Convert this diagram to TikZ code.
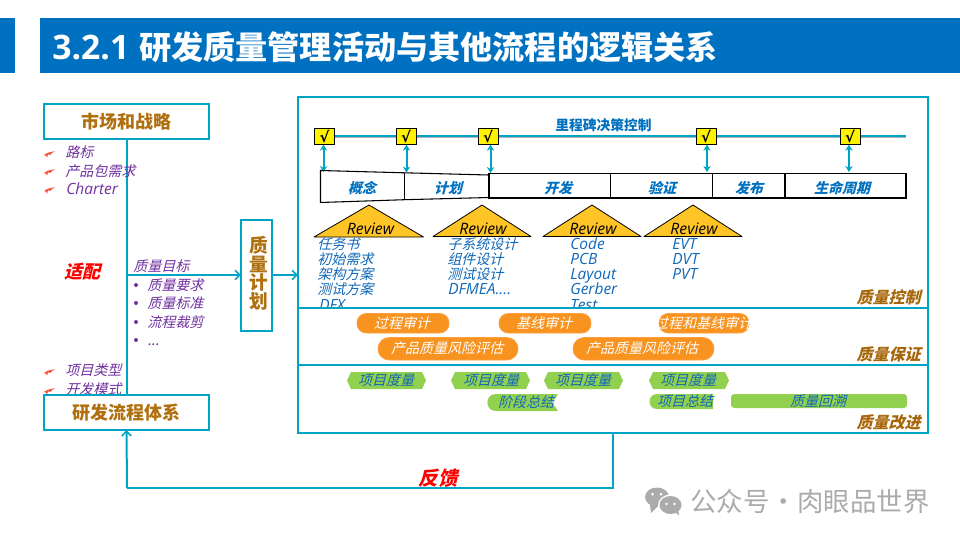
\documentclass[tikz,border=0pt]{standalone}
\usepackage{fontspec}
\usetikzlibrary{arrows.meta,shapes.geometric,calc}
\newfontfamily\cjk{Noto Sans CJK SC}
\newfontfamily\cjkit[FakeSlant=0.25]{Noto Sans CJK SC}
\newfontfamily\latin{Open Sans}
\newfontfamily\symb{DejaVu Sans}
\newcommand{\fsz}[1]{\fontsize{#1}{#1}\selectfont}
\definecolor{teal1}{HTML}{00A5C6}
\definecolor{hdr}{HTML}{0070C0}
\definecolor{brownb}{HTML}{B0700F}
\definecolor{brownd}{HTML}{A8660A}
\definecolor{purp}{HTML}{7030A0}
\definecolor{bluet}{HTML}{1068B8}
\definecolor{orangep}{HTML}{F7931E}
\definecolor{greenp}{HTML}{92D050}
\definecolor{yel}{HTML}{FFC425}
\definecolor{wing}{HTML}{F05A3C}
\tikzset{
 tealbox/.style={draw=teal1,line width=1.5pt,fill=white,inner sep=0pt,outer sep=0pt},
 conn/.style={draw=teal1,line width=1.5pt},
 arr/.style={conn,-{Straight Barb[length=3.6pt,width=7pt,line width=1.2pt]}},
 dbl/.style={draw=teal1,line width=1.5pt,{Stealth[length=4.5pt,width=5.5pt]}-{Stealth[length=4.5pt,width=5.5pt]}},
 boxt/.style={font=\cjk\bfseries\fsz{13.5},text=brownb},
 lst/.style={font=\cjkit\fsz{10.5},text=purp,anchor=west,inner sep=0pt},
 lstl/.style={font=\latin\itshape\fsz{11.6},text=purp,anchor=west,inner sep=0pt,text height=10pt,text depth=2.5pt},
 blu/.style={font=\cjkit\fsz{10.5},text=bluet,anchor=west,inner sep=0pt},
 blul/.style={font=\latin\itshape\fsz{11.6},text=bluet,anchor=west,inner sep=0pt,text height=10pt,text depth=2.5pt},
 chk/.style={draw=black,line width=.6pt,fill=yellow,minimum width=15pt,minimum height=12pt,inner sep=0pt,font=\symb\bfseries\fsz{11}},
 phase/.style={font=\cjkit\bfseries\fsz{10.5},text=hdr,inner sep=0pt},
 phbox/.style={draw=black,line width=.8pt},
 rev/.style={font=\latin\itshape\fsz{11.8},text=black,inner sep=0pt},
 tri/.style={draw=black,line width=.6pt,fill=yel,line join=round},
 pill/.style={draw=orange!75!white,line width=.6pt,fill=orangep,rounded corners=7pt},
 pillt/.style={font=\cjkit\fsz{10.5},text=white,inner sep=0pt},
 gr/.style={fill=greenp},
 grt/.style={font=\cjkit\fsz{10.5},text=bluet,inner sep=0pt},
 corner/.style={font=\cjkit\bfseries\fsz{12},text=brownd,anchor=east,inner sep=0pt},
 redt/.style={font=\cjkit\bfseries\fsz{13.5},text=red,inner sep=0pt},
 wm/.style={font=\cjk\fsz{19.8},text=black!33,anchor=west,inner sep=0pt},
 wingm/.pic={\fill[wing] (-5.5,.8) .. controls (-3,-1) and (-1,-1.8) .. (5.5,-2.8) .. controls (3,-1.5) and (1.5,-.5) .. (1,.8) -- (-1.5,.6) -- (-2.5,3.5) -- (-3.5,1.8) -- cycle;},
 bul/.style={circle,fill=purp,inner sep=0pt,minimum size=3pt}
}
\begin{document}
\begin{tikzpicture}[x=0.75pt,y=-0.75pt]
\useasboundingbox (0,0) rectangle (960,540);
\fill[white] (0,0) rectangle (960,540);
% header
\fill[hdr] (0,18) rectangle (15,73);
\fill[hdr] (40,18) rectangle (960,73);
\node[anchor=west,inner sep=0pt,text=white,font=\latin\bfseries\fsz{25.3}] (ttla) at (52,47.5) {3.2.1};
\node[anchor=west,inner sep=0pt,text=white,font=\cjk\bfseries\fsz{24.1}] (ttlb) at (139,47) {研发质量管理活动与其他流程的逻辑关系};
% left spine
\coordinate (junc) at (127,275);
\coordinate (fbk) at (613,488);
\coordinate (fbl) at (127,488);
\node[tealbox,minimum width=123.75pt,minimum height=26.25pt] (mkt) at (126.5,121.5) {};
\node[tealbox,minimum width=23.25pt,minimum height=83.25pt] (plan) at (256.5,275.5) {};
\node[tealbox,minimum width=472.5pt,minimum height=252pt] (big) at (613,265) {};
\draw[conn] (mkt.south) -- (mkt.south |- 0,395);
% left lists
\pic at (49.5,154) {wingm};
\pic at (49.5,172) {wingm};
\pic at (49.5,190) {wingm};
\node[lst] (l1) at (65,152) {路标};
\node[lst] (l2) at (65,171) {产品包需求};
\node[lstl] (l3) at (66,189) {Charter};
\pic at (49.5,372) {wingm};
\pic at (49.5,391) {wingm};
\node[lst] (l4) at (65,370) {项目类型};
\node[lst] (l5) at (65,389) {开发模式};
\node[tealbox,minimum width=123.75pt,minimum height=26.25pt] (rnd) at (126.5,412.5) {};
\node[boxt] (mktt) at (mkt.center) {市场和战略};
\node[boxt] (rndt) at (rnd.center) {研发流程体系};
\node[redt] (fit) at (82,272) {适配};
\node[lst] (g0) at (133,266) {质量目标};
\node[bul] (b1) at (136,285) {};
\node[bul] (b2) at (136,303) {};
\node[bul] (b3) at (136,322) {};
\node[bul] (b4) at (136,340) {};
\node[lst] (g1) at (147,285) {质量要求};
\node[lst] (g2) at (147,303) {质量标准};
\node[lst] (g3) at (147,322) {流程裁剪};
\node[lstl] (g4) at (148,340) {...};
% plan text
\node[boxt,font=\cjk\bfseries\fsz{14}] (p1) at (258.5,245) {质};
\node[boxt,font=\cjk\bfseries\fsz{14}] (p2) at (258.5,264) {量};
\node[boxt,font=\cjk\bfseries\fsz{14}] (p3) at (258.5,282.5) {计};
\node[boxt,font=\cjk\bfseries\fsz{14}] (p4) at (258.5,301) {划};
% connectors left
\draw[arr] (junc) -- (plan.west |- junc);
\draw[arr] (plan.east |- junc) -- (big.west |- junc);
\draw[conn] (big.south -| fbk) -- (fbk) -- (fbl);
\draw[arr] (fbl) -- (rnd.south);
\node[redt,font=\cjkit\bfseries\fsz{14.5}] (fbt) at (438,478) {反馈};
% milestone line
\coordinate (ms1) at (322,135.5);
\coordinate (ms2) at (906,135.5);
\draw[black!30,line width=1.2pt] ($(ms1)+(0,1.5)$) -- ($(ms2)+(0,1.5)$);
\draw[conn] (ms1) -- (ms2);
\node[font=\cjk\bfseries\fsz{10.3},text=hdr,inner sep=0pt] (mst) at (603.5,125) {里程碑决策控制};
\node[chk] (c1) at (324.5,136.3) {√};
\node[chk] (c2) at (406,136.3) {√};
\node[chk] (c3) at (488,136.3) {√};
\node[chk] (c4) at (706,136.3) {√};
\node[chk] (c5) at (850,136.3) {√};
% phases
\coordinate (a1) at (323.5,172);
\coordinate (a2) at (406.5,172.5);
\coordinate (a3) at (490.5,173);
\coordinate (a4) at (707,172);
\coordinate (a5) at (849,172);
\draw[dbl] (a1 |- c1.south) -- (a1);
\draw[dbl] (a2 |- c2.south) -- (a2);
\draw[dbl] (a3 |- c3.south) -- (a3);
\draw[dbl] (a4 |- c4.south) -- (a4);
\draw[dbl] (a5 |- c5.south) -- (a5);
\draw[phbox] (320.5,170.5) -- (404.5,172.8) -- (489,175) -- (489,197.5) -- (404.5,199.7) -- (320.5,202.5) -- cycle;
\draw[phbox] (404.5,172.8) -- (404.5,199.7);
\draw[phbox] (489,173.7) rectangle (906,198);
\draw[phbox] (610.5,173.7) -- (610.5,198);
\draw[phbox] (712.3,173.7) -- (712.3,198);
\draw[phbox] (785,173.7) -- (785,198);
\node[phase] (n1) at (362,188) {概念};
\node[phase] (n2) at (448,188) {计划};
\node[phase] (n3) at (558,188) {开发};
\node[phase] (n4) at (662,188) {验证};
\node[phase] (n5) at (749,188) {发布};
\node[phase] (n6) at (842,188) {生命周期};
% review triangles
\draw[tri] (314,237) -- (369,205) -- (423.5,237) -- cycle;
\draw[tri] (433,236.5) -- (482,205) -- (531,236.5) -- cycle;
\draw[tri] (543,236.5) -- (592,205) -- (641,236.5) -- cycle;
\draw[tri] (644,236.5) -- (693,205) -- (742,236.5) -- cycle;
\node[rev] (r1) at (370.5,228.5) {Review};
\node[rev] (r2) at (483,228.5) {Review};
\node[rev] (r3) at (593,228.5) {Review};
\node[rev] (r4) at (694,228.5) {Review};
% lists
\node[blu] (t11) at (317,244) {任务书};
\node[blu] (t12) at (317,259) {初始需求};
\node[blu] (t13) at (317,274) {架构方案};
\node[blu] (t14) at (317,289) {测试方案};
\node[blul] (t15) at (319,305) {DFX};
\node[blu] (t21) at (447,244) {子系统设计};
\node[blu] (t22) at (447,259) {组件设计};
\node[blu] (t23) at (447,274) {测试设计};
\node[blul] (t24) at (448,289) {DFMEA....};
\node[blul] (t31) at (570,244) {Code};
\node[blul] (t32) at (570,259) {PCB};
\node[blul] (t33) at (570,274) {Layout};
\node[blul] (t34) at (570,289) {Gerber};
\node[blul] (t35) at (570,305) {Test};
\node[blul] (t41) at (672,244) {EVT};
\node[blul] (t42) at (672,259) {DVT};
\node[blul] (t43) at (672,274) {PVT};
\node[corner] (q1) at (921,297) {质量控制};
% lower panels
\fill[white] (299,308) rectangle (927,432);
\draw[conn] (big.west |- 0,308) -- (big.east |- 0,308);
\draw[conn] (big.west |- 0,365) -- (big.east |- 0,365);
\draw[pill] (357,313.5) rectangle (449,333);
\draw[pill] (499,313.5) rectangle (591,333);
\draw[pill] (659,313.5) rectangle (749,333);
\draw[pill,rounded corners=8.4pt] (378,337.5) rectangle (518,360);
\draw[pill,rounded corners=8.4pt] (573,337.5) rectangle (714,360);
\node[pillt] (u1) at (402,323) {过程审计};
\node[pillt] (u2) at (544,323) {基线审计};
\begin{scope}
\clip (659,313) rectangle (749,334);
\node[pillt] (u3) at (703,323) {过程和基线审计};
\end{scope}
\node[pillt] (u4) at (447,348) {产品质量风险评估};
\node[pillt] (u5) at (642,348) {产品质量风险评估};
\node[corner] (q2) at (921,354) {质量保证};
% green
\fill[gr] (347,380.5) -- (351,372) -- (422,372) -- (426,380.5) -- (422,389) -- (351,389) -- cycle;
\fill[gr] (451,380.5) -- (455,372) -- (526,372) -- (530,380.5) -- (526,389) -- (455,389) -- cycle;
\fill[gr] (544,380.5) -- (548,372) -- (619,372) -- (623,380.5) -- (619,389) -- (548,389) -- cycle;
\fill[gr] (649,380.5) -- (653,372) -- (725,372) -- (729,380.5) -- (725,389) -- (653,389) -- cycle;
\node[grt] (v1) at (386,380) {项目度量};
\node[grt] (v2) at (491,380) {项目度量};
\node[grt] (v3) at (583,380) {项目度量};
\node[grt] (v4) at (688,380) {项目度量};
\fill[gr] (558,394) -- (496,394) .. controls (484.5,394) and (484.5,411) .. (496,411) -- (558,411) -- (552,402.5) -- cycle;
\node[grt] (v5) at (526,402) {阶段总结};
\fill[gr] (713,394) -- (657,394) .. controls (647,394) and (647,409) .. (657,409) -- (713,409) -- cycle;
\node[grt] (v6) at (685,401) {项目总结};
\fill[gr,rounded corners=2.5pt] (731,394) rectangle (907,408);
\node[grt] (v7) at (818,401) {质量回溯};
\node[corner] (q3) at (921,422) {质量改进};
\draw[conn] (big.south west) rectangle (big.north east);
% watermark
\fill[black!33] (657,497) ellipse (12 and 9.5);
\fill[black!33] (650,505) -- (651,513) -- (658,506) -- cycle;
\fill[white] (670.5,505) ellipse (12.5 and 10.5);
\fill[black!33] (670.5,505) ellipse (11 and 9);
\fill[black!33] (675,512) -- (679,515.5) -- (678,509) -- cycle;
\fill[white] (652.5,494) circle (1.5) (661,494) circle (1.5) (666.5,504) circle (1.3) (674.5,504) circle (1.3);
\node[wm] (wmt) at (690,501) {公众号\makebox[21pt][c]{·}肉眼品世界};
\end{tikzpicture}
\end{document}
